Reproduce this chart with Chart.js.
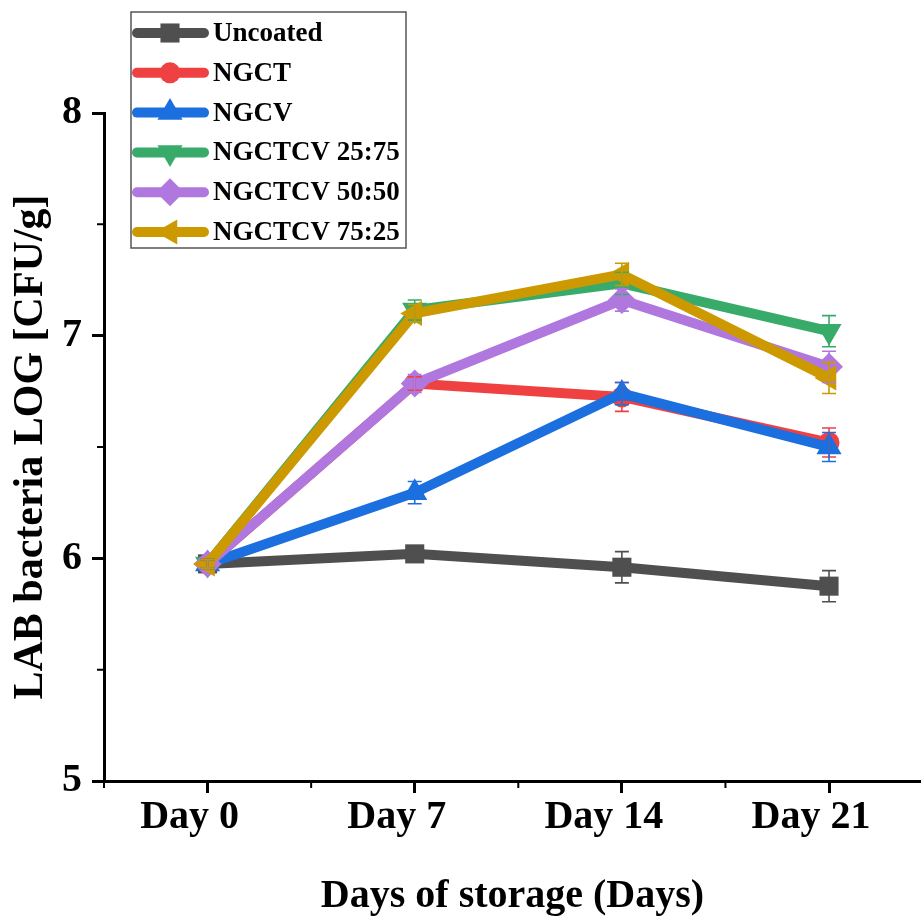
<!DOCTYPE html>
<html>
<head>
<meta charset="utf-8">
<script src="https://cdn.jsdelivr.net/npm/chart.js@4/dist/chart.umd.min.js"></script>
<style>
    html, body { margin: 0; padding: 0; background: #fff; }
    #wrap { width: 921px; height: 917px; }
</style>
</head>
<body>
<div id="wrap"><canvas id="labChart" width="921" height="917"></canvas></div>
<script>
// Chart data
const dayLabels = ["Day 0", "Day 7", "Day 14", "Day 21"];
const seriesNames = ["Uncoated", "NGCT", "NGCV", "NGCTCV 25:75", "NGCTCV 50:50", "NGCTCV 75:25"];

const uncoated = [5.975, 6.02, 5.96, 5.875];
const ngct = [5.975, 6.785, 6.725, 6.52];
const ngcv = [5.975, 6.295, 6.74, 6.5];
const ngctcv2575 = [5.975, 7.115, 7.235, 7.02];
const ngctcv5050 = [5.975, 6.785, 7.16, 6.86];
const ngctcv7525 = [5.975, 7.1, 7.275, 6.81];

// standard deviation, same units as values
const uncoatedErr = [0.02, 0.03, 0.07, 0.07];
const ngctErr = [0.02, 0.03, 0.065, 0.065];
const ngcvErr = [0.02, 0.05, 0.05, 0.065];
const ngctcv2575Err = [0.02, 0.045, 0.05, 0.07];
const ngctcv5050Err = [0.02, 0.04, 0.05, 0.07];
const ngctcv7525Err = [0.02, 0.04, 0.05, 0.07];

const yTicks = [5, 5.5, 6, 6.5, 7, 7.5, 8];
const xTicks = [-0.5, 0, 0.5, 1, 1.5, 2, 2.5, 3];

const FONT = "'Liberation Serif', 'Times New Roman', serif";

const seriesValues = [uncoated, ngct, ngcv, ngctcv2575, ngctcv5050, ngctcv7525];
const seriesErrors = [uncoatedErr, ngctErr, ngcvErr, ngctcv2575Err, ngctcv5050Err, ngctcv7525Err];
const seriesColors = ["#4f4f4f", "#ef4141", "#1b6fde", "#38ab6b", "#b078de", "#cc9a00"];
const seriesMarkers = [
    { style: "rect", radius: 13.5, rotation: 0 },
    { style: "circle", radius: 10.5, rotation: 0 },
    { style: "triangle", radius: 14.5, rotation: 0 },
    { style: "triangle", radius: 14.5, rotation: 180 },
    { style: "rectRot", radius: 14, rotation: 0 },
    { style: "triangle", radius: 14.5, rotation: -90 },
];

const datasets = seriesNames.map((name, i) => ({
    label: name,
    data: seriesValues[i].map((v, d) => ({ x: d, y: v })),
    borderColor: seriesColors[i],
    backgroundColor: seriesColors[i],
    borderWidth: 10,
    pointStyle: seriesMarkers[i].style,
    pointRadius: seriesMarkers[i].radius,
    pointRotation: seriesMarkers[i].rotation,
    pointBorderWidth: 0,
    tension: 0,
    // later series sit on top
    order: seriesNames.length - 1 - i,
}));

const isMajor = (v) => Number.isInteger(v);

/**
 * Error bars drawn through the scales
 */
const errorBarPlugin = {
    id: "errorBars",
    afterDatasetsDraw(chart) {
        const { ctx, scales } = chart;
        ctx.save();
        ctx.lineWidth = 1.6;
        seriesValues.forEach((values, i) => {
            ctx.strokeStyle = seriesColors[i];
            values.forEach((v, d) => {
                const e = seriesErrors[i][d];
                const px = scales.x.getPixelForValue(d);
                const top = scales.y.getPixelForValue(v + e);
                const bot = scales.y.getPixelForValue(v - e);
                ctx.beginPath();
                ctx.moveTo(px, top);
                ctx.lineTo(px, bot);
                ctx.moveTo(px - 7, top);
                ctx.lineTo(px + 7, top);
                ctx.moveTo(px - 7, bot);
                ctx.lineTo(px + 7, bot);
                ctx.stroke();
            });
        });
        ctx.restore();
    },
};

/**
 * Short minor ticks on both axes
 */
const minorTickPlugin = {
    id: "minorTicks",
    afterDraw(chart) {
        const { ctx, scales, chartArea } = chart;
        ctx.save();
        ctx.strokeStyle = "#000";
        ctx.lineWidth = 2;
        ctx.beginPath();
        xTicks.filter((v) => !isMajor(v)).forEach((v) => {
            const px = scales.x.getPixelForValue(v);
            ctx.moveTo(px, chartArea.bottom);
            ctx.lineTo(px, chartArea.bottom + 7);
        });
        yTicks.filter((v) => !isMajor(v)).forEach((v) => {
            const py = scales.y.getPixelForValue(v);
            ctx.moveTo(chartArea.left, py);
            ctx.lineTo(chartArea.left - 7, py);
        });
        ctx.stroke();
        ctx.restore();
    },
};

/**
 * Framed legend with a line and marker per series
 */
const boxLegendPlugin = {
    id: "boxLegend",
    afterDraw(chart) {
        const { ctx } = chart;
        const box = { left: 131, top: 12, right: 406, bottom: 248 };
        ctx.save();
        ctx.strokeStyle = "#555";
        ctx.lineWidth = 1.5;
        ctx.strokeRect(box.left, box.top, box.right - box.left, box.bottom - box.top);

        ctx.font = `bold 27px ${FONT}`;
        ctx.textBaseline = "middle";
        ctx.textAlign = "left";
        seriesNames.forEach((name, i) => {
            const y = 33 + i * 39.8;
            ctx.strokeStyle = seriesColors[i];
            ctx.fillStyle = seriesColors[i];
            ctx.lineWidth = 10;
            ctx.lineCap = "round";
            ctx.beginPath();
            ctx.moveTo(137, y);
            ctx.lineTo(204, y);
            ctx.stroke();
            Chart.helpers.drawPoint(ctx, {
                pointStyle: seriesMarkers[i].style,
                rotation: seriesMarkers[i].rotation,
                radius: seriesMarkers[i].radius,
                borderWidth: 0,
            }, 170, y);
            ctx.fillStyle = "#000";
            ctx.fillText(name, 213, y + 1);
        });
        ctx.restore();
    },
};

const tickFont = { family: FONT, size: 40, weight: "bold" };

new Chart(document.getElementById("labChart"), {
    type: "line",
    data: { datasets: datasets },
    options: {
        responsive: false,
        animation: false,
        devicePixelRatio: 1,
        layout: {
            autoPadding: false,
            padding: { top: 113, right: 0, bottom: 0, left: 0 },
        },
        plugins: {
            legend: { display: false },
            tooltip: { enabled: false },
        },
        scales: {
            x: {
                type: "linear",
                min: -0.5,
                max: 3.444,
                afterBuildTicks: (scale) => {
                    scale.ticks = xTicks.map((v) => ({ value: v }));
                },
                afterFit: (scale) => {
                    scale.height = 136;
                    scale.paddingLeft = 0;
                    scale.paddingRight = 0;
                },
                grid: {
                    drawOnChartArea: false,
                    tickLength: 12,
                    tickWidth: 3,
                    tickColor: (c) => (c.tick && isMajor(c.tick.value) ? "#000" : "rgba(0,0,0,0)"),
                },
                border: { color: "#000", width: 3 },
                ticks: {
                    color: "#000",
                    font: tickFont,
                    padding: 1,
                    labelOffset: -18,
                    maxRotation: 0,
                    autoSkip: false,
                    callback: (v) => (isMajor(v) ? dayLabels[v] : ""),
                },
                title: {
                    display: true,
                    text: "Days of storage (Days)",
                    color: "#000",
                    font: { family: FONT, size: 40, weight: "bold", lineHeight: 1 },
                    padding: { top: 0, bottom: 0 },
                },
            },
            y: {
                min: 5,
                max: 8,
                afterBuildTicks: (scale) => {
                    scale.ticks = yTicks.map((v) => ({ value: v }));
                },
                afterFit: (scale) => {
                    scale.width = 104;
                },
                grid: {
                    drawOnChartArea: false,
                    tickLength: 12,
                    tickWidth: 3,
                    tickColor: (c) => (c.tick && isMajor(c.tick.value) ? "#000" : "rgba(0,0,0,0)"),
                },
                border: { color: "#000", width: 3 },
                ticks: {
                    color: "#000",
                    font: tickFont,
                    padding: 10,
                    callback: (v) => (isMajor(v) ? String(v) : ""),
                },
                title: {
                    display: true,
                    text: "LAB bacteria LOG [CFU/g]",
                    color: "#000",
                    font: { family: FONT, size: 42, weight: "bold", lineHeight: 1 },
                    padding: { top: 10, bottom: 0 },
                },
            },
        },
    },
    plugins: [errorBarPlugin, minorTickPlugin, boxLegendPlugin],
});
</script>
</body>
</html>
